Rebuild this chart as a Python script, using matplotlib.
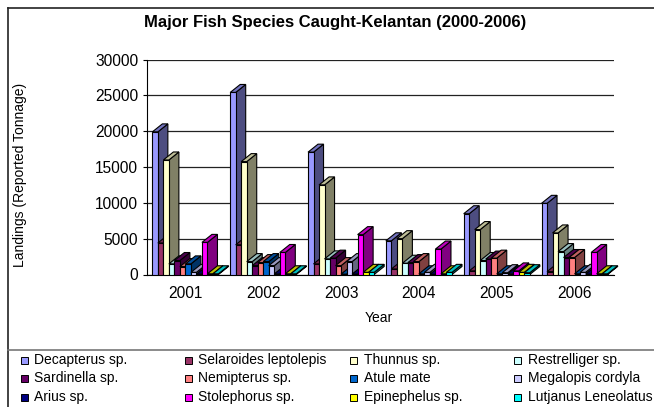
#!/usr/bin/env python3
import matplotlib
matplotlib.use("Agg")
import matplotlib.pyplot as plt
from matplotlib.colors import to_rgb
from matplotlib.patches import Polygon, Rectangle
from matplotlib.transforms import IdentityTransform

plt.rcParams['font.family'] = ['Liberation Sans', 'DejaVu Sans']

years = ["2001", "2002", "2003", "2004", "2005", "2006"]
species = ["Decapterus sp.", "Selaroides leptolepis", "Thunnus sp.", "Restrelliger sp.",
           "Sardinella sp.", "Nemipterus sp.", "Atule mate", "Megalopis cordyla",
           "Arius sp.", "Stolephorus sp.", "Epinephelus sp.", "Lutjanus Leneolatus"]
colors = ["#9999FF", "#993366", "#FFFFCC", "#CCFFFF", "#660066", "#FF8080",
          "#0066CC", "#CCCCFF", "#000080", "#FF00FF", "#FFFF00", "#00FFFF"]

decapterus = [19900, 25400, 17070, 4700, 8480, 9930]
selaroides = [4400, 4150, 1480, 770, 500, 400]
thunnus = [15980, 15750, 12500, 5000, 6270, 5800]
restrelliger = [1480, 1800, 2180, 1570, 1950, 3200]
sardinella = [1950, 1240, 2280, 1660, 2150, 2370]
nemipterus = [1100, 1660, 1240, 1800, 2280, 2370]
atule = [1480, 1800, 50, 100, 100, 100]
megalopis = [300, 1240, 1800, 300, 250, 300]
arius = [50, 80, 50, 30, 100, 50]
stolephorus = [4480, 3070, 5560, 3550, 500, 3070]
epinephelus = [100, 100, 300, 100, 300, 100]
lutjanus = [100, 100, 300, 300, 250, 100]
series = [decapterus, selaroides, thunnus, restrelliger, sardinella, nemipterus,
          atule, megalopis, arius, stolephorus, epinephelus, lutjanus]

W, H = 654, 407
fig = plt.figure(figsize=(W / 100, H / 100), dpi=100)
ax = fig.add_axes([146.5 / W, 1 - 274.5 / H, 467 / W, 215 / H])
ax.set_xlim(0, 6)
ax.set_ylim(0, 30000)
ax.patch.set_alpha(0)

# depth of the fake 3D bars, in pixels
dx, dy = 10, 8
bw = 0.0708


def shade(c, k):
    return tuple(v * k for v in to_rgb(c))


def box(x0, x1, v, s, z):
    # side and top faces, worked out in pixels from the data position
    (px0, py0), (px1, py1) = ax.transData.transform([(x0, 0), (x1, v)])
    side = [(px1, py0), (px1, py1), (px1 + dx, py1 + dy), (px1 + dx, py0 + dy)]
    top = [(px0, py1), (px1, py1), (px1 + dx, py1 + dy), (px0 + dx, py1 + dy)]
    for pts, k in [(side, 0.5), (top, 0.75)]:
        ax.add_patch(Polygon(pts, closed=True, transform=IdentityTransform(), clip_on=False,
                             fc=shade(colors[s], k), ec="black", lw=0.8, zorder=z))


for g in range(6):
    for s, vals in enumerate(series):
        x0 = g + 0.5 + (s - 6) * bw
        z = 3 + g * 12 + s
        box(x0, x0 + bw, vals[g], s, z)
        ax.bar(x0, vals[g], bw, align="edge", color=colors[s], ec="black", lw=0.8, zorder=z)

ax.set_axisbelow(True)
ax.yaxis.grid(True, color="#222222", lw=0.9)
ax.set_yticks(range(0, 30001, 5000))
ax.set_xticks([i + 0.5 for i in range(6)])
ax.set_xticklabels(years, fontsize=11.2)
ax.tick_params(axis="x", length=0, pad=8)
ax.tick_params(axis="y", labelsize=11.2, length=3, width=0.8, pad=3)
ax.spines["top"].set_visible(False)
ax.spines["right"].set_visible(False)
ax.spines["left"].set_linewidth(0.8)
ax.spines["bottom"].set_linewidth(0.8)

fig.text(335 / W, 1 - 22.5 / H, "Major Fish Species Caught-Kelantan (2000-2006)", ha="center", va="center",
         fontsize=12, fontweight="bold")
fig.text(20.5 / W, 1 - 175 / H, "Landings (Reported Tonnage)", rotation=90, ha="center", va="center", fontsize=10)
fig.text(379 / W, 1 - 318 / H, "Year", ha="center", va="center", fontsize=10)

# frame and legend: the chart border only shows on the left and top
fig.add_artist(plt.Line2D([7.5 / W, 7.5 / W], [0, 1 - 7.5 / H], color="#222222", lw=1.2))
fig.add_artist(plt.Line2D([7.5 / W, 1], [1 - 7.5 / H] * 2, color="#222222", lw=1.2))
fig.add_artist(plt.Line2D([7.5 / W, 1], [1 - 349.5 / H] * 2, color="#777777", lw=1.2))

col_x = [21, 185, 350, 514]
row_y = [360, 378, 397]
for i, name in enumerate(species):
    r, c = i // 4, i % 4
    fig.add_artist(Rectangle((col_x[c] / W, 1 - (row_y[r] + 3.5) / H), 7 / W, 7 / H,
                             transform=fig.transFigure, fc=colors[i], ec="black", lw=0.7))
    fig.text((col_x[c] + 13.5) / W, 1 - row_y[r] / H, name, ha="left", va="center", fontsize=10)

fig.savefig("out.png", dpi=100)
